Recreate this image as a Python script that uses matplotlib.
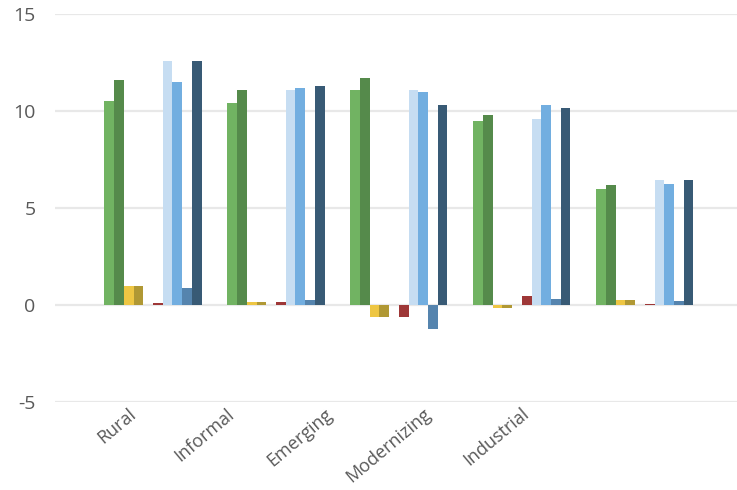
import numpy as np
import matplotlib
matplotlib.use("Agg")
import matplotlib.pyplot as plt

plt.rcParams['font.family'] = ['Open Sans', 'DejaVu Sans']
plt.rcParams['axes.unicode_minus'] = False

categories = ["Rural", "Informal", "Emerging", "Modernizing", "Industrial"]

# values, one list per series (left to right in a group)
green_a = [10.5, 10.4, 11.1, 9.5, 6.0]
green_b = [11.6, 11.1, 11.7, 9.8, 6.2]
yellow_a = [1.0, 0.15, -0.6, -0.15, 0.25]
yellow_b = [1.0, 0.15, -0.6, -0.15, 0.25]
red_a = [0.08, 0.15, -0.62, 0.46, 0.07]
blue_a = [12.6, 11.1, 11.1, 9.6, 6.45]
blue_b = [11.5, 11.2, 11.0, 10.3, 6.25]
blue_c = [0.88, 0.26, -1.25, 0.31, 0.2]
blue_d = [12.6, 11.3, 10.3, 10.15, 6.45]

series = [green_a, green_b, yellow_a, yellow_b, red_a, blue_a, blue_b, blue_c, blue_d]
colors = ["#71B362", "#558A4B", "#EEC643", "#B09834", "#9E3737",
          "#C6DDF2", "#72AEE0", "#5584AE", "#385A75"]
slots = [0, 1, 2, 3, 5, 6, 7, 8, 9]   # slot 4 stays empty

fig = plt.figure(figsize=(7.37, 4.9), dpi=100)
ax = fig.add_axes([55 / 737, 1 - 402 / 490, 682 / 737, 388 / 490])

x = np.arange(len(categories))
w = 0.079
for vals, col, s in zip(series, colors, slots):
    ax.bar(x + (s - 4.5) * w, vals, width=w, color=col, zorder=3)

ax.set_xlim(-0.797, 4.75)
ax.set_ylim(-5, 15)
ax.set_yticks([-5, 0, 5, 10, 15])
ax.grid(axis='y', color='#E8E8E8', linewidth=1.6, zorder=0)
for sp in ax.spines.values():
    sp.set_visible(False)
ax.set_xticks([])
ax.tick_params(axis='y', length=0, pad=14, labelsize=14, labelcolor='#595959')

# category labels sit on their own scale
ax2 = ax.twiny()
ax2.set_xlim(-0.804, 6.137)
ax2.xaxis.set_ticks_position('bottom')
ax2.xaxis.set_label_position('bottom')
ax2.set_xticks(np.arange(len(categories)))
ax2.set_xticklabels(categories, rotation=40, ha='right', va='center',
                    rotation_mode='anchor')
ax2.tick_params(axis='x', length=0, pad=7, labelsize=13, labelcolor='#595959')
for sp in ax2.spines.values():
    sp.set_visible(False)

fig.savefig("out.png", dpi=100)
